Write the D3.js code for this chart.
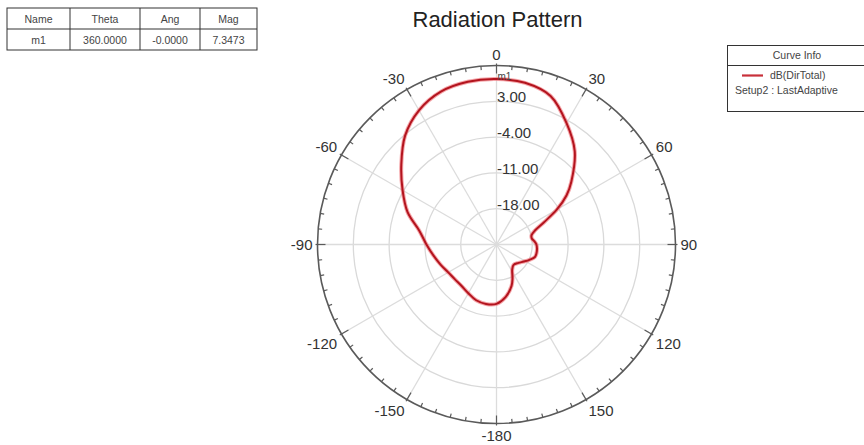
<!DOCTYPE html>
<html><head><meta charset="utf-8">
<script src="https://cdn.jsdelivr.net/npm/d3@7"></script>
<style>
html,body{margin:0;padding:0;background:#fff;}
text{font-family:"Liberation Sans",Arial,sans-serif;fill:#333;}
</style></head>
<body>
<svg id="chart" width="864" height="445"></svg>
<script>
// ---- data ----
const thetaDeg = [-180,-170,-160,-150,-140,-130,-120,-110,-100,-90,-80,-70,-60,-50,-40,-30,-20,-10,0,10,20,30,40,50,55,60,65,70,75,80,85,90,100,108,115,122,130,140,148,155,160,170];
const dBDirTotal = [-13.4,-13.2,-13.4,-14.0,-14.4,-14.4,-14.1,-13.4,-12.5,-11.3,-9.7,-6.5,-3.8,-0.7,2.8,5.3,6.8,7.3,7.3473,7.1,5.9,2.4,-1.2,-5.9,-8.3,-11.4,-14.8,-17.0,-17.9,-18.0,-17.6,-17.2,-17.0,-17.1,-17.9,-18.7,-19.4,-19.8,-19.2,-17.6,-16.4,-14.6];
const ringValues = [-18, -11, -4, 3];
const ringLabels = ["-18.00","-11.00","-4.00","3.00"];
const angleTicks = [0,30,60,90,120,150,180,-150,-120,-90,-60,-30];
const angleLabels = ["0","30","60","90","120","150","-180","-150","-120","-90","-60","-30"];
const tableHeader = ["Name","Theta","Ang","Mag"];
const tableRow = ["m1","360.0000","-0.0000","7.3473"];
const legendTitle = "Curve Info";
const legendSeries = "dB(DirTotal)";
const legendSetup = "Setup2 : LastAdaptive";
const markerName = "m1";
const markerTheta = 0;
const markerValue = 7.3473;

// ---- layout ----
const svg = d3.select("#chart");
const cx = 496.5, cy = 244.5, R = 179;
const r = d3.scaleLinear().domain([-25, 10]).range([0, R]);
const a = d3.scaleLinear().domain([-180, 180]).range([-Math.PI, Math.PI]);
const pol = (deg, rad) => [cx + rad*Math.sin(a(deg)), cy - rad*Math.cos(a(deg))];

// title
svg.append("text").attr("x", cx+1).attr("y", 27).attr("text-anchor","middle")
  .style("font-size","22px").style("fill","#222").text("Radiation Pattern");

const g = svg.append("g");

// grid rings
g.selectAll("circle.ring").data(ringValues).join("circle")
  .attr("cx", cx).attr("cy", cy).attr("r", d => r(d))
  .attr("fill","none").attr("stroke","#d9d9d9").attr("stroke-width",1.3);

// spokes
g.selectAll("line.spoke").data(angleTicks).join("line")
  .attr("x1", cx).attr("y1", cy)
  .attr("x2", d => pol(d, R)[0]).attr("y2", d => pol(d, R)[1])
  .attr("stroke","#dcdcdc").attr("stroke-width",1.3);

// outer circle
g.append("circle").attr("cx", cx).attr("cy", cy).attr("r", R)
  .attr("fill","none").attr("stroke","#5a5a5a").attr("stroke-width",1.6);

// ticks every 5 degrees
const tickAngles = d3.range(-180, 180, 5);
g.selectAll("line.tick").data(tickAngles).join("line")
  .attr("x1", d => pol(d, d % 30 === 0 ? R - 8 : R - 4)[0])
  .attr("y1", d => pol(d, d % 30 === 0 ? R - 8 : R - 4)[1])
  .attr("x2", d => pol(d, d % 30 === 0 ? R + 2 : R)[0])
  .attr("y2", d => pol(d, d % 30 === 0 ? R + 2 : R)[1])
  .attr("stroke","#5a5a5a").attr("stroke-width",1.2);

// angle labels
const LR = 184;
angleTicks.forEach((t, i) => {
  const [x, y] = pol(t, LR);
  const s = Math.sin(a(t)), c = Math.cos(a(t));
  let anchor = Math.abs(s) < 0.1 ? "middle" : (s > 0 ? "start" : "end");
  let base;
  if (Math.abs(c) < 0.1) base = "central";
  else base = c > 0 ? "auto" : "hanging";
  let dy = 0;
  if (base === "auto") dy = -1;
  if (base === "hanging") dy = 1;
  svg.append("text").attr("x", x).attr("y", y + dy)
    .attr("text-anchor", anchor).attr("dominant-baseline", base)
    .style("font-size","15px").text(angleLabels[i]);
});

// ring labels
ringValues.forEach((v, i) => {
  svg.append("text").attr("x", cx + 0.5).attr("y", cy - r(v) + 1)
    .attr("text-anchor","start").style("font-size","15px").text(ringLabels[i]);
});

// curve
const pts = thetaDeg.map((t, i) => [a(t), r(dBDirTotal[i])]);
const line = d3.lineRadial().angle(d => d[0]).radius(d => d[1]).curve(d3.curveCatmullRomClosed.alpha(0.5));
const cg = svg.append("g").attr("transform", `translate(${cx},${cy})`);
cg.append("path").attr("d", line(pts)).attr("fill","none")
  .attr("stroke","#ee6b72").attr("stroke-opacity",0.6).attr("stroke-width",4);
cg.append("path").attr("d", line(pts)).attr("fill","none")
  .attr("stroke","#b3141e").attr("stroke-width",2);

// marker label
const mp = pol(markerTheta, r(markerValue));
svg.append("text").attr("x", mp[0] + 1).attr("y", mp[1] + 1)
  .style("font-size","10px").style("fill","#444").text(markerName);

// ---- table ----
const tX = [7, 70, 140, 200, 257];
const tY = [8, 29, 50];
const tg = svg.append("g");
tg.append("rect").attr("x", tX[0]).attr("y", tY[0]).attr("width", tX[4]-tX[0]).attr("height", tY[2]-tY[0])
  .attr("fill","#fff").attr("stroke","#333").attr("stroke-width",1);
tg.append("line").attr("x1", tX[0]).attr("x2", tX[4]).attr("y1", tY[1]).attr("y2", tY[1]).attr("stroke","#333");
[1,2,3].forEach(i => tg.append("line").attr("x1", tX[i]).attr("x2", tX[i]).attr("y1", tY[0]).attr("y2", tY[2]).attr("stroke","#333"));
[tableHeader, tableRow].forEach((row, ri) => {
  row.forEach((txt, ci) => {
    tg.append("text").attr("x", (tX[ci]+tX[ci+1])/2).attr("y", (tY[ri]+tY[ri+1])/2 + 4)
      .attr("text-anchor","middle").style("font-size","10.5px").style("fill","#444").text(txt);
  });
});

// ---- legend ----
const lg = svg.append("g");
lg.append("rect").attr("x", 727.5).attr("y", 45.5).attr("width", 140).attr("height", 66)
  .attr("fill","#fff").attr("stroke","#333");
lg.append("line").attr("x1", 727.5).attr("x2", 864).attr("y1", 65.5).attr("y2", 65.5).attr("stroke","#333");
lg.append("text").attr("x", 797).attr("y", 59).attr("text-anchor","middle").style("font-size","10.5px").style("fill","#444").text(legendTitle);
lg.append("line").attr("x1", 742).attr("x2", 763).attr("y1", 75.5).attr("y2", 75.5).attr("stroke","#c8303a").attr("stroke-width",2.2);
lg.append("text").attr("x", 770).attr("y", 79).style("font-size","10.5px").style("fill","#444").text(legendSeries);
lg.append("text").attr("x", 735).attr("y", 94).style("font-size","10.5px").style("fill","#444").text(legendSetup);
</script>
</body></html>
